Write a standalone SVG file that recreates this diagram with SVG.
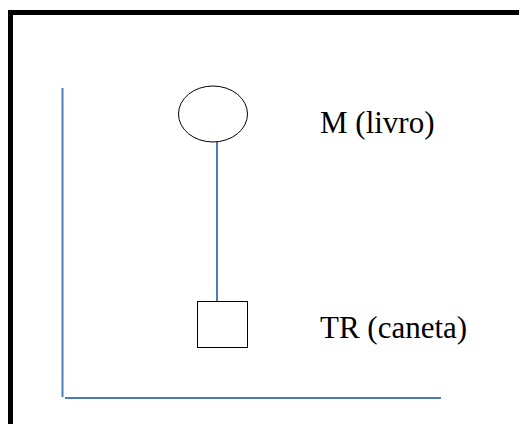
<svg xmlns="http://www.w3.org/2000/svg" width="519" height="424" viewBox="0 0 519 424">
  <style>
    .frame { fill: #ffffff; stroke: #000000; stroke-width: 5; }
    .axis { stroke: #4A7EBB; stroke-width: 2; fill: none; }
    .link { stroke: #4A7EBB; stroke-width: 2; fill: none; }
    .shape { fill: #ffffff; stroke: #000000; stroke-width: 1; }
    .label { font-family: "Liberation Serif", "Times New Roman", serif; font-size: 31px; fill: #000000; }
  </style>
  <rect width="519" height="424" fill="#ffffff"/>
  <!-- outer frame, running past the right and bottom edges -->
  <rect class="frame" x="10.5" y="12.5" width="530" height="430"/>
  <!-- axes -->
  <g id="axes">
    <line class="axis" x1="62.5" y1="88" x2="62.5" y2="397"/>
    <line class="axis" x1="65" y1="398" x2="441" y2="398"/>
  </g>
  <!-- connectors -->
  <g id="connectors">
    <line class="link" x1="217" y1="142" x2="217" y2="301"/>
  </g>
  <g id="node-m">
    <ellipse class="shape" cx="213" cy="114" rx="34.5" ry="28"/>
    <text class="label" x="320" y="133">M (livro)</text>
  </g>
  <g id="node-tr">
    <rect class="shape" x="197.5" y="301.5" width="50" height="46"/>
    <text class="label" x="320" y="338">TR (caneta)</text>
  </g>
</svg>
